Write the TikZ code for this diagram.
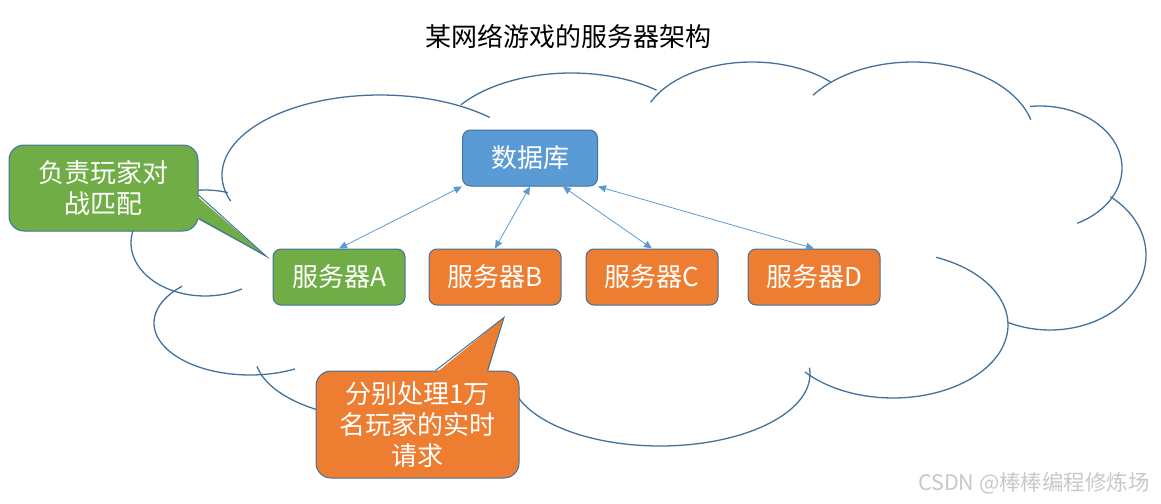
\documentclass[tikz,border=0pt]{standalone}
\usepackage{fontspec}
\setmainfont{Noto Sans CJK SC}
\usepackage{tikz}
\usetikzlibrary{arrows.meta, positioning}
\definecolor{dbblue}{HTML}{5B9BD5}
\definecolor{srvorange}{HTML}{ED7D31}
\definecolor{srvgreen}{HTML}{70AD47}
\definecolor{edgeblue}{HTML}{41719C}
\definecolor{markgray}{HTML}{C8C8C8}
\tikzstyle{box} = [rectangle, rounded corners=8pt, minimum width=132pt, minimum height=56pt, text centered, draw=edgeblue, line width=1pt, text=white, font=\fontsize{26}{31}\selectfont]
\tikzstyle{server} = [box, fill=srvorange]
\tikzstyle{note} = [rectangle, rounded corners=15pt, draw=edgeblue, line width=1pt, text=white, align=center, font=\fontsize{26}{31}\selectfont]
\tikzstyle{pointer} = [draw=edgeblue, line width=1pt, line join=miter]
\tikzstyle{arrow} = [draw=dbblue, line width=0.8pt, {Triangle[length=8pt,width=7pt]}-{Triangle[length=8pt,width=7pt]}]
\tikzstyle{cloudline} = [draw=edgeblue, line width=1.3pt]

\begin{document}
\begin{tikzpicture}[x=1pt, y=-1pt]
\useasboundingbox (0,0) rectangle (1161,503);
% cloud lobes: centre x/y, radius x/y, angle range
\foreach \cx/\cy/\rx/\ry/\ta/\tb in {380/175/158/80/46/199, 571/150/136/77/51/144, 752/130/111/68/45/156, 913/140/122/78/15/145, 1040/168/82/62/-63/97, 1050/255/96/75/-116/51, 893/325/115/73/-140/68, 660/374/150/72/190/365, 390/355/135/65/190/280, 250/323/96/52/135/298, 205/243/74/53/72/300}
  \draw[cloudline] plot[domain=\ta:\tb, samples=60] ({\cx+\rx*cos(\x)}, {\cy-\ry*sin(\x)});

\node (title) at (568,37) [font=\fontsize{26}{31}\selectfont] {某网络游戏的服务器架构};
\node (db) at (530,158) [box, fill=dbblue, minimum width=135pt] {数据库};
\node (srvA) at (339,277) [box, fill=srvgreen] {服务器A};
\node (srvB) [server, right=23pt of srvA] {服务器B};
\node (srvC) [server, right=24pt of srvB] {服务器C};
\node (srvD) [server, right=29pt of srvC] {服务器D};
\draw [arrow] (srvA.north) -- (db.south west);
\draw [arrow] (srvB.north) -- (db.south);
\draw [arrow] (srvC.north) -- (db.-41);
\draw [arrow] (srvD.north) -- (db.south east);

% callouts
\node (matchnote) at (103.5,188) [note, fill=srvgreen, minimum width=189pt, minimum height=86pt] {负责玩家对\\战匹配};
\coordinate (matchtip) at ([xshift=-6pt,yshift=-8pt]srvA.north west);
\fill[srvgreen] ([xshift=-3pt,yshift=-7pt]matchnote.east) -- (matchtip) -- ([xshift=-3pt,yshift=-30pt]matchnote.east) -- cycle;
\draw[pointer] ([yshift=-7pt]matchnote.east) -- (matchtip) -- ([yshift=-30pt]matchnote.east);
\node (loadnote) at (417.5,424.5) [note, fill=srvorange, minimum width=203pt, minimum height=107pt] {分别处理1万\\名玩家的实时\\请求};
\coordinate (loadtip) at ([xshift=9pt,yshift=-12pt]srvB.south);
\fill[srvorange] ([xshift=18pt,yshift=-3pt]loadnote.north) -- (loadtip) -- ([xshift=70pt,yshift=-3pt]loadnote.north) -- cycle;
\draw[pointer] ([xshift=18pt]loadnote.north) -- (loadtip) -- ([xshift=70pt]loadnote.north);

\node (mark) at (1034,483) [text=markgray, font=\fontsize{21.5}{25}\selectfont] {CSDN @棒棒编程修炼场};
\end{tikzpicture}
\end{document}
